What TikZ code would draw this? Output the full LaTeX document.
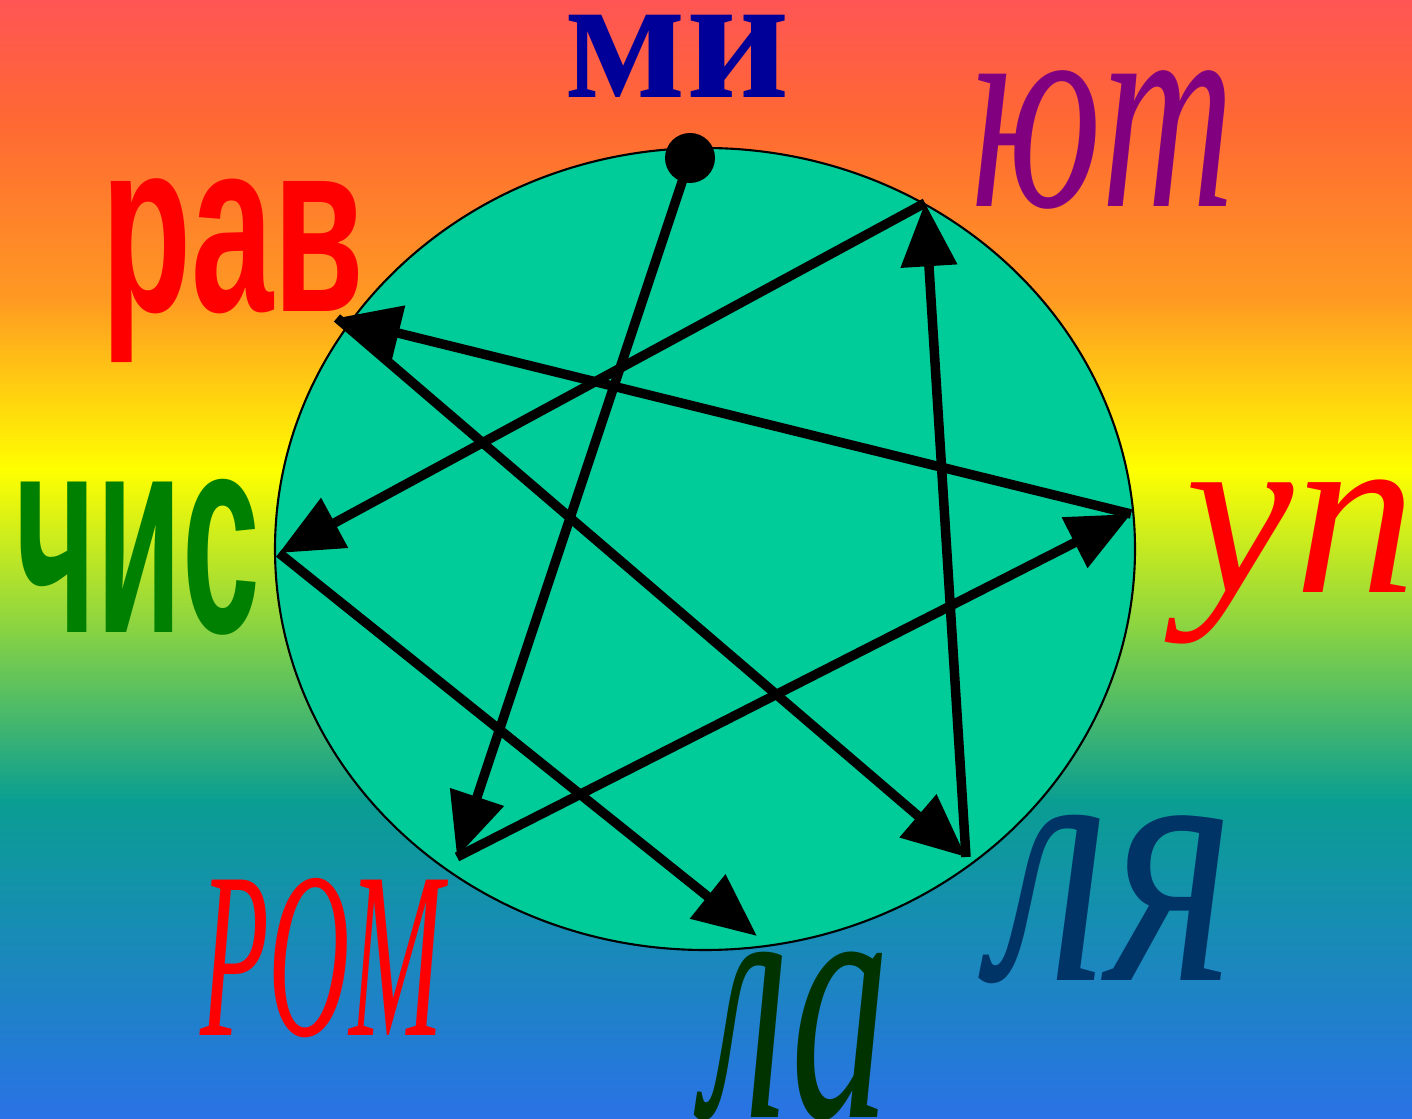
\documentclass[tikz,border=0pt]{standalone}
\usepackage{fontspec}
\setmainfont{Liberation Serif}
\newfontfamily\heavyfont{Liberation Sans}
\usepackage{graphicx}
\usetikzlibrary{arrows.meta}
\definecolor{bgA}{HTML}{FF5555}
\definecolor{bgB}{HTML}{FF6833}
\definecolor{bgC}{HTML}{FF9A22}
\definecolor{bgD}{HTML}{FFFF00}
\definecolor{bgE}{HTML}{80D048}
\definecolor{bgF}{HTML}{0A9E92}
\definecolor{bgG}{HTML}{2A72E6}
\definecolor{disc}{HTML}{00CC99}
\definecolor{miblue}{HTML}{000099}
\definecolor{yutpurple}{HTML}{800080}
\definecolor{chisgreen}{HTML}{008000}
\definecolor{ladark}{HTML}{003300}
\definecolor{lyablue}{HTML}{003366}

\begin{document}
\begin{tikzpicture}[x=0.01cm,y=-0.01cm,
  chord/.style={line width=2.7pt, -{Triangle[length=18pt,width=15.5pt]}},
  word/.style={anchor=base, inner sep=0pt}]
\useasboundingbox (0,0) rectangle (1412,1119);
\foreach \ya/\yb/\ca/\cb in {0/120/bgA/bgB, 120/300/bgB/bgC, 300/470/bgC/bgD,
  470/640/bgD/bgE, 640/800/bgE/bgF, 800/1119/bgF/bgG}
  \shade[top color=\ca, bottom color=\cb] (0,\ya-1) rectangle (1412,\yb+1);
\draw[fill=disc, line width=0.6pt] (705,549) ellipse [x radius=430, y radius=401];
\coordinate (mi) at (690,158);
\coordinate (yut) at (925,203);
\coordinate (rav) at (337,318);
\coordinate (up) at (1131,514);
\coordinate (chis) at (279,553);
\coordinate (rom) at (457,857);
\coordinate (la) at (757,936);
\coordinate (lya) at (966,857);
\draw[chord] (mi) -- (rom);
\draw[chord] (rom) -- (up);
\draw[chord] (up) -- (rav);
\draw[chord] (rav) -- (lya);
\draw[chord] (lya) -- (yut);
\draw[chord] (yut) -- (chis);
\draw[chord] (chis) -- (la);
\fill (mi) circle (25);
\node[word, text=miblue] (mi-label) at (677,98) {\fontsize{51}{56}\selectfont\bfseries ми};
\node[word, text=yutpurple] (yut-label) at (1103,207) {\scalebox{0.64}[1]{\fontsize{82}{86}\selectfont\itshape ют}};
\node[word, text=red] (rav-label) at (233,312) {\scalebox{0.6}[1]{\fontsize{70}{74}\selectfont\heavyfont\bfseries рав}};
\node[word, text=red] (up-label) at (1301,593) {\scalebox{1.02}[1]{\fontsize{68}{72}\selectfont\itshape уп}};
\node[word, text=chisgreen] (chis-label) at (138,633) {\scalebox{0.49}[1]{\fontsize{81}{85}\selectfont\heavyfont\bfseries чис}};
\node[word, text=red] (rom-label) at (322,1035) {\scalebox{0.475}[1]{\fontsize{67.5}{70}\selectfont\itshape РОМ}};
\node[word, text=ladark] (la-label) at (797,1117) {\scalebox{0.56}[1]{\fontsize{100}{104}\selectfont\itshape ла}};
\node[word, text=lyablue] (lya-label) at (1113,980) {\scalebox{0.77}[1]{\fontsize{100}{104}\selectfont\itshape ля}};
\end{tikzpicture}
\end{document}
